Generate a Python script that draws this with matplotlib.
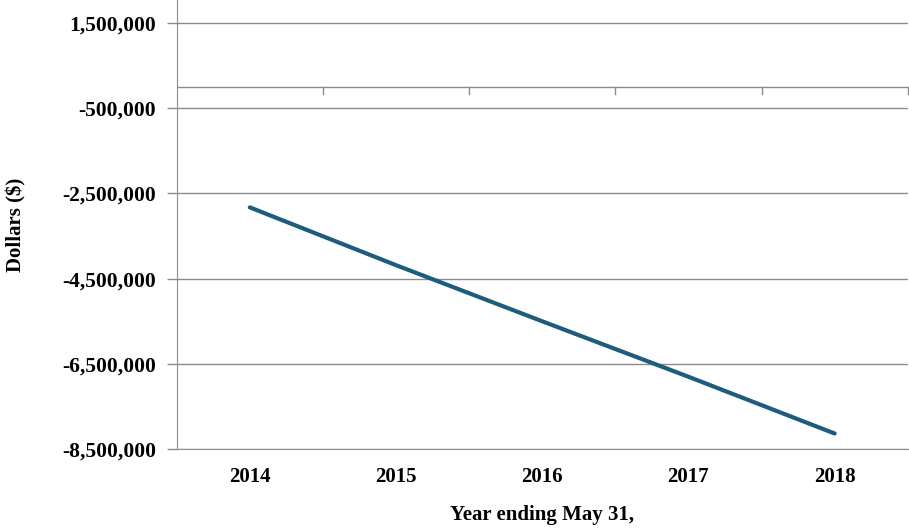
import matplotlib
matplotlib.use("Agg")
import matplotlib.pyplot as plt
from matplotlib.ticker import FuncFormatter, FixedLocator

# values (dollars)
years = ["2014", "2015", "2016", "2017", "2018"]
dollars = [-2830000, -4185000, -5500000, -6800000, -8130000]
y_ticks = [1500000, -500000, -2500000, -4500000, -6500000, -8500000]

plt.rcParams['font.family'] = ['Liberation Serif', 'DejaVu Serif']
plt.rcParams['font.weight'] = 'bold'

grid_col = '#8c8c8c'
line_col = '#1f5b7d'

fig = plt.figure(figsize=(9.09, 5.30), dpi=100)
ax = fig.add_axes([0.1944, 0.1523, 0.8042, 0.8477])

x = list(range(len(years)))
ax.plot(x, dollars, color=line_col, linewidth=3.0, solid_capstyle='round', zorder=3)

ax.set_xlim(-0.5, len(years) - 0.5)
ax.set_ylim(-8500000, 2030000)

ax.yaxis.set_major_locator(FixedLocator(y_ticks))
ax.yaxis.set_major_formatter(FuncFormatter(lambda v, p: f"{int(v):,}"))
ax.grid(axis='y', color=grid_col, linewidth=1.0, zorder=0)
ax.tick_params(axis='y', length=7, width=1, color=grid_col, labelsize=15.5, pad=8)

# category labels at the bottom, no tick marks there
ax.set_xticks(x)
ax.set_xticklabels(years)
ax.tick_params(axis='x', length=0, labelsize=15, pad=13)

for side in ['top', 'right']:
    ax.spines[side].set_visible(False)
ax.spines['left'].set_color(grid_col)
ax.spines['bottom'].set_color(grid_col)

# horizontal axis line at zero with tick marks between categories
ax.axhline(0, color=grid_col, linewidth=1.0, zorder=1)
for b in [i + 0.5 for i in range(len(years))]:
    ax.plot([b, b], [0, -170000], color=grid_col, linewidth=1.0, zorder=1,
            clip_on=False)

ax.set_ylabel("Dollars ($)", fontsize=15, fontweight='bold')
ax.yaxis.set_label_coords(-0.206, 0.5)
ax.set_xlabel("Year ending May 31,", fontsize=15, fontweight='bold', labelpad=13)

fig.savefig("out.png", dpi=100)
